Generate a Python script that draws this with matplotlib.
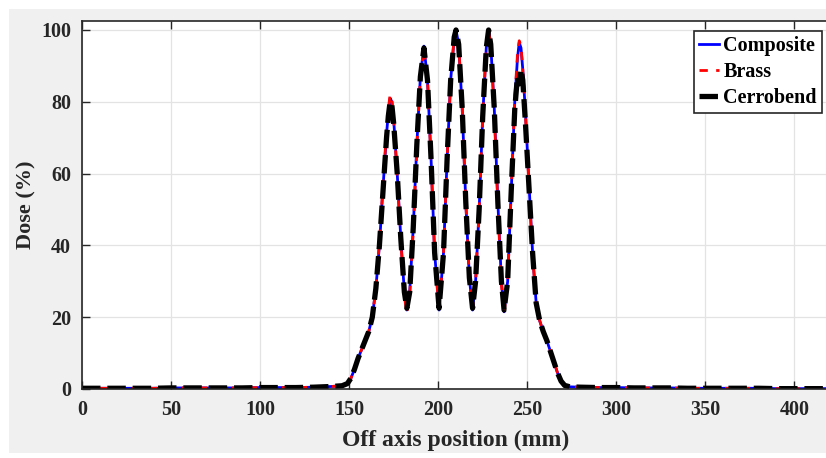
import numpy as np
import matplotlib.pyplot as plt
from matplotlib.patches import Rectangle

# off-axis position (mm)
x = [0, 10, 20, 30, 40, 50, 60, 70, 80, 90, 100, 110, 120, 130, 140, 146,
     149, 151, 153, 155, 157, 159, 161, 163, 165, 167, 169, 171, 172, 173,
     174, 175, 177, 179, 181, 182.4, 184, 186, 188, 190, 192, 194, 196, 198,
     200.5, 203, 205, 207, 209, 210, 211.5, 213.5, 215.5, 217.5, 219.3, 221,
     223, 225, 227, 228.3, 229.5, 231.5, 233.5, 235.5, 237, 239, 241, 243,
     244.5, 245.5, 246.5, 247.5, 249, 251, 253, 255, 257, 259, 261, 263, 265,
     267, 269, 271, 274, 280, 290, 300, 310, 320, 330, 340, 350, 360, 370,
     380, 390, 400, 410, 420]

composite = [0.2, 0.2, 0.2, 0.2, 0.2, 0.3, 0.3, 0.3, 0.3, 0.3, 0.4, 0.4, 0.4, 0.5, 0.7, 0.9,
             1.5, 3, 5.5, 8.5, 11, 13.5, 16, 20, 28, 40, 56, 71, 77, 81,
             80, 75, 60, 42, 27, 22, 27, 45, 68, 87, 95.5, 86, 64, 38,
             22, 38, 64, 86, 98, 100, 96, 78, 52, 31, 22, 30,
             50, 76, 95, 100, 96, 78, 52, 30, 21.5, 30, 55, 80,
             92, 96.5, 95, 89, 77, 57, 38, 24, 19, 16, 13.5, 10.5, 7.5,
             4.5, 2.2, 1, 0.6, 0.5, 0.4, 0.4, 0.3, 0.3, 0.3, 0.2, 0.2, 0.2, 0.2,
             0.2, 0.1, 0.1, 0.1, 0.1]

brass = [0.2, 0.2, 0.2, 0.2, 0.2, 0.3, 0.3, 0.3, 0.3, 0.3, 0.4, 0.4, 0.4, 0.5, 0.7, 0.9,
         1.5, 3, 5.5, 8.5, 11, 13.5, 16, 20, 28, 41, 57, 72, 78, 82,
         80.5, 75, 59, 41, 26, 21, 26, 44, 67, 87, 95, 86, 63, 37,
         22, 38, 64, 86, 98, 100, 96, 78, 52, 31, 22.5, 30,
         50, 76, 95, 100, 96, 77, 51, 29, 21, 30, 55, 81,
         93, 97, 95.5, 89, 76, 56, 37, 24, 19, 16, 13.5, 10.5, 7.5,
         4.5, 2.2, 1, 0.6, 0.5, 0.4, 0.4, 0.3, 0.3, 0.3, 0.2, 0.2, 0.2, 0.2,
         0.2, 0.1, 0.1, 0.1, 0.1]

cerrobend = [0.2, 0.2, 0.2, 0.2, 0.2, 0.3, 0.3, 0.3, 0.3, 0.3, 0.4, 0.4, 0.4, 0.5, 0.7, 0.9,
             1.5, 3, 5.5, 8.5, 11, 13.5, 16, 20, 28, 40, 55, 70, 76, 80,
             79, 74, 60, 42, 27, 22.5, 27, 45, 68, 87, 95, 86, 64, 38,
             22.5, 38, 64, 86, 98, 100, 96, 78, 52, 31, 22.5, 30,
             50, 76, 95, 100, 96, 78, 52, 30, 22, 30, 55, 78,
             87, 85, 89, 86, 74, 56, 38, 24, 19, 16, 13.5, 10.5, 7.5,
             4.5, 2.2, 1, 0.6, 0.5, 0.4, 0.4, 0.3, 0.3, 0.3, 0.2, 0.2, 0.2, 0.2,
             0.2, 0.1, 0.1, 0.1, 0.1]

x_ticks = [0, 50, 100, 150, 200, 250, 300, 350, 400]
y_ticks = [0, 20, 40, 60, 80, 100]

plt.rcParams['font.family'] = ['Liberation Serif', 'DejaVu Serif']
plt.rcParams['font.weight'] = 'bold'

fig = plt.figure(figsize=(8.26, 4.58), dpi=100, facecolor='white')
fig.patches.append(Rectangle((9 / 826, 5 / 458), 1, 444 / 458, transform=fig.transFigure,
                             facecolor='#f0f0f0', edgecolor='none', zorder=-10))

ax = fig.add_axes([82 / 826, 69 / 458, 748 / 826, 368 / 458])
ax.set_facecolor('white')

ax.plot(x, composite, color='blue', lw=2, label='Composite')
ax.plot(x, brass, color='red', lw=2, ls=(0, (3, 3)), label='Brass')
ax.plot(x, cerrobend, color='black', lw=3.8, ls=(0, (3.5, 1.3)), label='Cerrobend')

ax.set_xlim(0, 420)
ax.set_ylim(0, 102.5)
ax.set_xticks(x_ticks)
ax.set_yticks(y_ticks)
ax.grid(True, color='#e3e3e3', lw=0.9)
ax.set_axisbelow(True)
ax.tick_params(direction='in', length=5.5, width=1, colors='#262626', labelsize=14.5,
               top=True, pad=8)
for s in ['left', 'top', 'bottom']:
    ax.spines[s].set_color('#262626')
    ax.spines[s].set_linewidth(1.2)
ax.spines['right'].set_visible(False)

ax.set_xlabel('Off axis position (mm)', fontsize=17, fontweight='bold', color='#262626', labelpad=7)
ax.set_ylabel('Dose (%)', fontsize=16, fontweight='bold', color='#262626', labelpad=3)

leg = ax.legend(loc='upper right', bbox_to_anchor=((822 - 82) / 748, 1 - 10 / 368),
                fontsize=14.5, handlelength=1.0, handletextpad=0.2, labelspacing=0.3,
                borderpad=0.25, borderaxespad=0, fancybox=False, framealpha=1)
leg.get_frame().set_edgecolor('#262626')
leg.get_frame().set_linewidth(1.2)

fig.savefig('out.png', dpi=100)
